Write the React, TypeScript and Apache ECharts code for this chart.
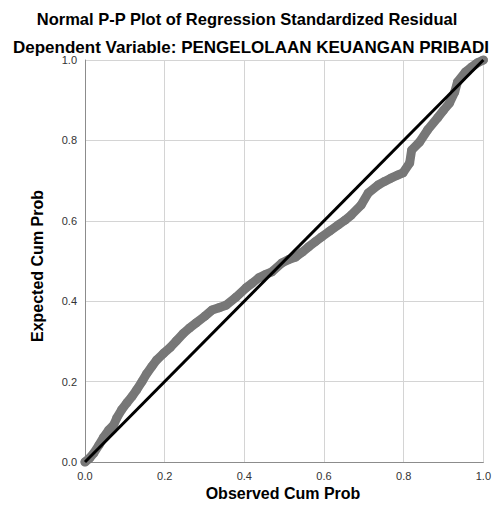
import React, { useEffect, useRef } from "react";
import * as echarts from "echarts";

const titleText = "Normal P-P Plot of Regression Standardized Residual";
const subtitleText = "Dependent Variable: PENGELOLAAN KEUANGAN PRIBADI";
const xAxisTitle = "Observed Cum Prob";
const yAxisTitle = "Expected Cum Prob";

// Observed cumulative probability (x) and expected cumulative probability (y)
const observedCumProb = [
  0, 0.012, 0.022, 0.035, 0.047, 0.06, 0.072, 0.08, 0.092, 0.105, 0.118, 0.13, 0.143, 0.155,
  0.168, 0.18, 0.197, 0.215, 0.23, 0.247, 0.262, 0.279, 0.3, 0.319, 0.337, 0.354, 0.379, 0.404,
  0.42, 0.436, 0.452, 0.469, 0.494, 0.51, 0.529, 0.545, 0.561, 0.578, 0.594, 0.615, 0.636, 0.652,
  0.668, 0.693, 0.711, 0.736, 0.752, 0.768, 0.786, 0.798, 0.815, 0.82, 0.84, 0.86, 0.885, 0.9,
  0.915, 0.928, 0.935, 0.955, 0.97, 0.985, 1,
];
const expectedCumProb = [
  0, 0.01, 0.022, 0.042, 0.062, 0.08, 0.092, 0.11, 0.13, 0.147, 0.163, 0.18, 0.2, 0.22, 0.238,
  0.254, 0.27, 0.286, 0.302, 0.32, 0.333, 0.346, 0.362, 0.378, 0.384, 0.39, 0.41, 0.433, 0.445,
  0.458, 0.466, 0.473, 0.495, 0.503, 0.51, 0.522, 0.535, 0.548, 0.56, 0.575, 0.59, 0.601, 0.614,
  0.639, 0.669, 0.689, 0.698, 0.706, 0.714, 0.719, 0.744, 0.776, 0.796, 0.826, 0.856, 0.875,
  0.893, 0.92, 0.945, 0.97, 0.982, 0.993, 1,
];
const referenceLine = [
  [0, 0],
  [1, 1],
];
const axisTicks = [0, 0.2, 0.4, 0.6, 0.8, 1.0];

const FONT = "'Liberation Sans', Arial, sans-serif";

export default function App() {
  const ref = useRef<HTMLDivElement>(null);
  useEffect(() => {
    if (!ref.current) return;
    const chart = echarts.init(ref.current, undefined, { renderer: "svg" });
    const pts = observedCumProb.map((x, i) => [x, expectedCumProb[i]]);
    chart.setOption({
      animation: false,
      backgroundColor: "#ffffff",
      textStyle: { fontFamily: FONT },
      title: [
        {
          text: titleText,
          left: "center",
          top: 5,
          textStyle: { fontFamily: FONT, fontSize: 16.5, fontWeight: "bold", color: "#000" },
        },
        {
          text: subtitleText,
          left: 8,
          top: 34,
          textStyle: { fontFamily: FONT, fontSize: 17, fontWeight: "bold", color: "#000" },
        },
      ],
      graphic: [
        {
          type: "text",
          x: 283,
          y: 485,
          style: {
            text: xAxisTitle,
            font: `bold 16px ${FONT}`,
            fill: "#000",
            align: "center",
            verticalAlign: "top",
          },
        },
        {
          type: "text",
          x: 29,
          y: 266,
          rotation: Math.PI / 2,
          style: {
            text: yAxisTitle,
            font: `bold 16px ${FONT}`,
            fill: "#000",
            align: "center",
            verticalAlign: "top",
          },
        },
      ],
      grid: { left: 85, right: 8, top: 60, bottom: 53, containLabel: false },
      xAxis: {
        type: "value",
        min: axisTicks[0],
        max: axisTicks[axisTicks.length - 1],
        interval: 0.2,
        axisLine: { show: true, lineStyle: { color: "#8c8c8c", width: 1 } },
        axisTick: { show: false },
        axisLabel: {
          margin: 8,
          fontSize: 11,
          color: "#333",
          fontFamily: FONT,
          formatter: (v: number) => v.toFixed(1),
        },
        splitLine: { show: true, lineStyle: { color: "#d4d4d4", width: 1 } },
      },
      yAxis: {
        type: "value",
        min: axisTicks[0],
        max: axisTicks[axisTicks.length - 1],
        interval: 0.2,
        axisLine: { show: true, lineStyle: { color: "#8c8c8c", width: 1 } },
        axisTick: { show: false },
        axisLabel: {
          margin: 8,
          fontSize: 11,
          color: "#333",
          fontFamily: FONT,
          formatter: (v: number) => v.toFixed(1),
        },
        splitLine: { show: true, lineStyle: { color: "#d4d4d4", width: 1 } },
      },
      series: [
        {
          type: "line",
          data: pts,
          showSymbol: false,
          lineStyle: { color: "#777777", width: 9, cap: "round", join: "round" },
          z: 2,
        },
        {
          type: "scatter",
          data: pts,
          symbolSize: 9,
          itemStyle: { color: "#777777" },
          z: 2,
        },
        {
          type: "line",
          data: referenceLine,
          showSymbol: false,
          lineStyle: { color: "#000000", width: 3 },
          z: 3,
        },
      ],
    });
    return () => chart.dispose();
  }, []);
  return (
    <div
      ref={ref}
      style={{ position: "fixed", left: 0, top: 0, width: 494, height: 515 }}
    />
  );
}
